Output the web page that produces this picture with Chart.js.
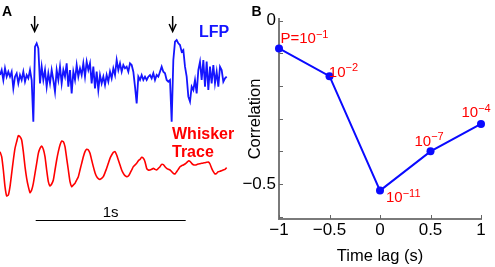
<!DOCTYPE html>
<html>
<head>
<meta charset="utf-8">
<script src="https://cdn.jsdelivr.net/npm/chart.js@4.4.1/dist/chart.umd.min.js"></script>
<style>
  body { margin:0; background:#fff; }
  #wrap { position:relative; width:495px; height:267px; }
  canvas { position:absolute; top:0; }
  #traceChart { left:0; }
  #lagChart { left:240px; }
</style>
</head>
<body>
<div id="wrap">
  <canvas id="traceChart" width="240" height="267"></canvas>
  <canvas id="lagChart" width="255" height="267"></canvas>
</div>
<script>
// panel A: raw traces, one sample every 1/90 s (arbitrary amplitude units)
const SAMPLE_DT = 1 / 90;
const lfpTrace = [0,15,-15,20,-5,10,-5,10,-40,-5,5,-25,0,-15,10,-20,0,-10,15,-15,
  -140,85,95,80,-25,25,-15,15,-35,5,-25,15,-15,-50,15,-15,25,-25,15,-5,
  35,-35,15,-55,10,-15,30,-5,20,0,35,-5,40,15,35,-25,25,-40,10,-45,
  0,-25,-5,-30,0,-20,10,-10,20,0,45,15,35,10,30,20,25,10,35,30,
  10,-35,-85,-5,-15,0,-15,-5,-15,-5,0,-10,5,-15,0,-5,10,25,10,5,
  -15,-20,-15,-140,45,100,105,95,90,70,75,25,-5,-65,-80,-35,-45,-15,-55,15,
  40,-15,45,-35,40,-45,25,-25,30,-25,10,-35,25,15,-20,-10,-5];
const whiskerTrace = [55,40,0,-50,-78,-75,-50,-10,30,65,85,103,100,90,55,10,-25,-50,-68,-60,
  -40,-10,20,50,65,72,62,40,0,-35,-48,-42,-30,0,30,55,75,87,85,70,
  35,0,-35,-50,-45,-40,-30,-20,0,20,40,55,62,60,50,30,10,-8,-20,-26,
  -28,-25,-20,-8,5,20,35,45,53,55,45,30,15,0,-10,-17,-20,-18,-10,0,
  10,15,20,28,32,38,35,25,5,0,0,2,5,2,0,5,10,17,16,10,
  5,2,0,-5,-10,-12,-5,2,10,13,15,18,22,27,26,20,16,15,16,18,
  19,20,21,22,23,24,18,5,-5,-12,-10,-5,-4,-2,0,2,7];
const arrowTimes = [0.231, 1.151]; // s
const scaleBarStart = 0.238, scaleBarLength = 1; // s

// panel B
const timeLags = [-1, -0.5, 0, 0.5, 1];
const correlations = [-0.085, -0.17, -0.52, -0.40, -0.316];
const pLabelBase = ['P=10', '10', '10', '10', '10'];
const pLabelExp = ['\u22121', '\u22122', '\u221211', '\u22127', '\u22124'];
const xTicks = [-1, -0.5, 0, 0.5, 1];
const yTicks = [0, -0.1, -0.2, -0.3, -0.4, -0.5, -0.6];
const yTickLabels = { '0': '0', '-0.5': '\u22120.5' };

const FONT = "'Liberation Sans', Arial, sans-serif";
Chart.defaults.font.family = FONT;
Chart.defaults.color = '#000';

const toXY = arr => arr.map((v, i) => ({ x: i * SAMPLE_DT, y: v }));

const tracePlugin = {
  id: 'traceDecor',
  afterDraw(chart) {
    const { ctx } = chart;
    const xs = chart.scales.x;
    ctx.save();
    // event arrows
    ctx.strokeStyle = '#000'; ctx.fillStyle = '#000'; ctx.lineWidth = 1.5;
    arrowTimes.forEach(t => {
      const x = xs.getPixelForValue(t);
      ctx.beginPath(); ctx.moveTo(x, 16); ctx.lineTo(x, 30); ctx.stroke();
      ctx.beginPath(); ctx.moveTo(x - 3.5, 24); ctx.lineTo(x, 31.5); ctx.lineTo(x + 3.5, 24); ctx.stroke();
    });
    // scale bar
    const x0 = xs.getPixelForValue(scaleBarStart), x1 = xs.getPixelForValue(scaleBarStart + scaleBarLength);
    ctx.lineWidth = 1;
    ctx.beginPath(); ctx.moveTo(x0, 220.5); ctx.lineTo(x1, 220.5); ctx.stroke();
    ctx.font = '15px ' + FONT; ctx.textAlign = 'center'; ctx.textBaseline = 'alphabetic';
    ctx.fillText('1s', (x0 + x1) / 2, 217);
    // labels
    ctx.textAlign = 'left';
    ctx.font = 'bold 14px ' + FONT;
    ctx.fillText('A', 2, 16);
    ctx.font = 'bold 16px ' + FONT;
    ctx.fillStyle = '#1515ff';
    ctx.fillText('LFP', 199, 37);
    ctx.fillStyle = '#ff0000';
    ctx.fillText('Whisker', 172, 138.5);
    ctx.fillText('Trace', 172, 156.5);
    ctx.restore();
  }
};

new Chart(document.getElementById('traceChart'), {
  type: 'line',
  data: {
    datasets: [
      { data: toXY(lfpTrace), yAxisID: 'yL', borderColor: '#1515ff', borderWidth: 1.8, pointRadius: 0, tension: 0 },
      { data: toXY(whiskerTrace), yAxisID: 'yW', borderColor: '#ff0000', borderWidth: 1.6, pointRadius: 0, tension: 0.15 }
    ]
  },
  options: {
    responsive: false, animation: false, events: [],
    layout: { padding: 0 },
    plugins: { legend: { display: false }, tooltip: { enabled: false } },
    scales: {
      x: { type: 'linear', display: false, min: 0, max: 1.6 },
      yL: { type: 'linear', display: false, min: -576, max: 225 },
      yW: { type: 'linear', display: false, min: -291, max: 510 }
    }
  },
  plugins: [tracePlugin]
});

const labelOffsets = [[1.5, -5], [-0.7, 0.7], [6, 11.7], [-16, -5.7], [-19.5, -6.7]];

const lagPlugin = {
  id: 'lagDecor',
  afterDraw(chart) {
    const { ctx, chartArea } = chart;
    const xs = chart.scales.x, ys = chart.scales.y;
    ctx.save();
    // inward tick marks
    ctx.strokeStyle = '#666'; ctx.lineWidth = 1;
    yTicks.forEach(v => {
      const y = Math.round(ys.getPixelForValue(v)) + 0.5;
      ctx.beginPath(); ctx.moveTo(chartArea.left, y); ctx.lineTo(chartArea.left + 4, y); ctx.stroke();
    });
    xTicks.forEach(v => {
      const x = Math.round(xs.getPixelForValue(v)) + 0.5;
      ctx.beginPath(); ctx.moveTo(x, chartArea.bottom); ctx.lineTo(x, chartArea.bottom - 4); ctx.stroke();
    });
    // p-value labels
    ctx.fillStyle = '#ff0000'; ctx.textBaseline = 'alphabetic'; ctx.textAlign = 'left';
    chart.getDatasetMeta(0).data.forEach((pt, i) => {
      const x = pt.x + labelOffsets[i][0], y = pt.y + labelOffsets[i][1];
      ctx.font = '15px ' + FONT;
      ctx.fillText(pLabelBase[i], x, y);
      const w = ctx.measureText(pLabelBase[i]).width;
      ctx.font = '11px ' + FONT;
      ctx.fillText(pLabelExp[i], x + w, y - 5.5);
    });
    ctx.font = 'bold 14px ' + FONT; ctx.fillStyle = '#000';
    ctx.fillText('B', 11.5, 15.5);
    ctx.restore();
  }
};

const fmt = v => (v < 0 ? '\u2212' + Math.abs(v) : String(v));

new Chart(document.getElementById('lagChart'), {
  type: 'line',
  data: {
    datasets: [{
      data: timeLags.map((t, i) => ({ x: t, y: correlations[i] })),
      borderColor: '#0a0aff', backgroundColor: '#0a0aff',
      pointBackgroundColor: '#0a0aff', pointBorderWidth: 0,
      borderWidth: 2, pointRadius: 4, tension: 0, clip: false
    }]
  },
  options: {
    responsive: false, animation: false, events: [],
    layout: { padding: { left: 0, right: 14, top: 19, bottom: 0 } },
    plugins: { legend: { display: false }, tooltip: { enabled: false } },
    scales: {
      x: {
        type: 'linear', min: -1, max: 1,
        afterBuildTicks: s => { s.ticks = xTicks.map(v => ({ value: v })); },
        afterFit: s => { s.height = 48; },
        ticks: { callback: v => fmt(v), font: { size: 17 }, padding: 1, maxRotation: 0, autoSkip: false },
        grid: { display: false, drawTicks: false },
        border: { color: '#7a7a7a', width: 2 },
        title: { display: true, text: 'Time lag (s)', font: { size: 16.5 }, padding: { top: 0, bottom: 1 } }
      },
      y: {
        type: 'linear', min: -0.607, max: 0.005,
        afterBuildTicks: s => { s.ticks = yTicks.map(v => ({ value: v })); },
        afterFit: s => { s.width = 39; },
        ticks: { callback: v => yTickLabels[String(Math.round(v * 10) / 10)] || '', font: { size: 17 }, padding: 3, autoSkip: false },
        grid: { display: false, drawTicks: false },
        border: { color: '#7a7a7a', width: 2 },
        title: { display: true, text: 'Correlation', font: { size: 16.5 }, padding: { top: 6, bottom: 0 } }
      }
    }
  },
  plugins: [lagPlugin]
});
</script>
</body>
</html>
